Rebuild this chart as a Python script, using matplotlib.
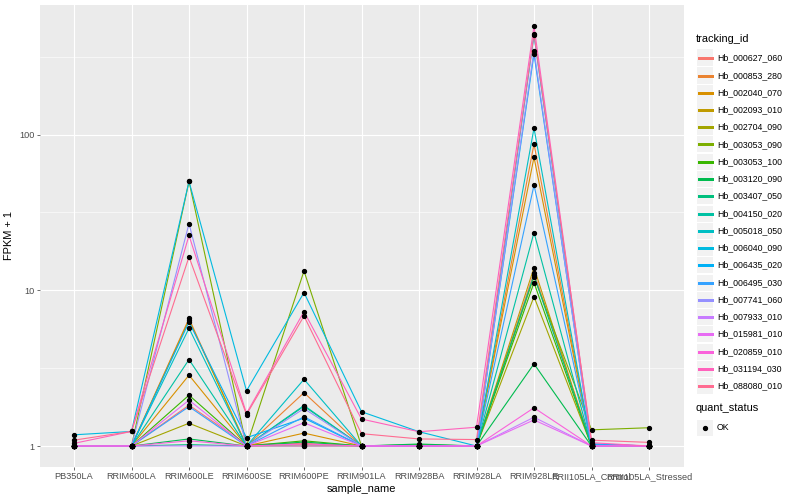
import matplotlib

matplotlib.use("Agg")
import matplotlib.pyplot as plt
import numpy as np
from matplotlib.lines import Line2D
from matplotlib.patches import Rectangle

plt.rcParams["font.family"] = ["Liberation Sans", "DejaVu Sans"]

samples = ["PB350LA", "RRIM600LA", "RRIM600LE", "RRIM600SE", "RRIM600PE",
           "RRIM901LA", "RRIM928BA", "RRIM928LA", "RRIM928LE",
           "RRII105LA_Control", "RRII105LA_Stressed"]

tracking_ids = ["Hb_000627_060", "Hb_000853_280", "Hb_002040_070", "Hb_002093_010",
                "Hb_002704_090", "Hb_003053_090", "Hb_003053_100", "Hb_003120_090",
                "Hb_003407_050", "Hb_004150_020", "Hb_005018_050", "Hb_006040_090",
                "Hb_006435_020", "Hb_006495_030", "Hb_007741_060", "Hb_007933_010",
                "Hb_015981_010", "Hb_020859_010", "Hb_031194_030", "Hb_088080_010"]

colors = ["#F8766D", "#EA8331", "#D89000", "#C09B00", "#A3A500", "#7CAE00",
          "#39B600", "#00BB4E", "#00BF7D", "#00C1A3", "#00BFC4", "#00BAE0",
          "#00B0F6", "#35A2FF", "#9590FF", "#C77CFF", "#E76BF3", "#FA62DB",
          "#FF62BC", "#FF6C91"]

# FPKM + 1 per tracking_id, one value per sample
fpkm = [
    [1.0, 1.0, 1.83, 1.02, 1.04, 1.0, 1.0, 1.0, 13.0, 1.02, 1.0],
    [1.0, 1.0, 6.59, 1.0, 2.2, 1.0, 1.0, 1.0, 87.0, 1.0, 1.0],
    [1.0, 1.0, 2.85, 1.0, 1.21, 1.0, 1.0, 1.0, 71.5, 1.0, 1.0],
    [1.0, 1.0, 6.45, 1.0, 1.02, 1.0, 1.0, 1.0, 14.0, 1.0, 1.0],
    [1.0, 1.0, 1.40, 1.0, 1.0, 1.0, 1.0, 1.0, 9.1, 1.0, 1.0],
    [1.0, 1.0, 50.0, 1.0, 13.3, 1.0, 1.0, 1.0, 12.2, 1.27, 1.31],
    [1.0, 1.0, 2.12, 1.0, 1.08, 1.0, 1.02, 1.0, 11.2, 1.0, 1.0],
    [1.0, 1.0, 1.11, 1.0, 1.06, 1.0, 1.03, 1.0, 3.37, 1.0, 1.0],
    [1.0, 1.0, 1.02, 1.0, 1.80, 1.0, 1.0, 1.0, 12.5, 1.0, 1.0],
    [1.0, 1.0, 3.59, 1.0, 1.82, 1.0, 1.0, 1.0, 23.5, 1.0, 1.0],
    [1.0, 1.0, 5.71, 1.0, 2.68, 1.0, 1.0, 1.0, 110.0, 1.0, 1.0],
    [1.18, 1.24, 50.0, 2.26, 9.67, 1.66, 1.235, 1.0, 433.0, 1.03, 1.0],
    [1.0, 1.0, 6.26, 1.13, 1.51, 1.0, 1.0, 1.0, 329.0, 1.03, 1.0],
    [1.0, 1.0, 1.79, 1.0, 1.54, 1.0, 1.0, 1.0, 47.3, 1.02, 1.0],
    [1.0, 1.0, 26.8, 1.0, 1.74, 1.0, 1.0, 1.0, 345.0, 1.0, 1.0],
    [1.0, 1.0, 1.0, 1.0, 1.0, 1.0, 1.0, 1.0, 1.53, 1.0, 1.0],
    [1.0, 1.0, 1.97, 1.0, 1.41, 1.0, 1.0, 1.0, 1.47, 1.0, 1.0],
    [1.0, 1.0, 1.08, 1.0, 1.03, 1.0, 1.0, 1.0, 1.76, 1.0, 1.0],
    [1.04, 1.24, 22.5, 1.62, 7.3, 1.49, 1.235, 1.32, 498.0, 1.05, 1.0],
    [1.09, 1.24, 16.4, 1.59, 6.84, 1.2, 1.11, 1.10, 441.0, 1.09, 1.055],
]

y_ticks = [1, 10, 100]
y_tick_labels = ["1", "10", "100"]

W, H = 800, 500
fig = plt.figure(figsize=(8, 5), dpi=100)
ax = fig.add_axes([39.5 / W, 1 - 467 / H, (683.5 - 39.5) / W, (467 - 5) / H])
ax.set_facecolor("#EBEBEB")

x = np.arange(len(samples))
for vals, col in zip(fpkm, colors):
    ax.plot(x, vals, color=col, lw=0.8, zorder=3)
for vals in fpkm:
    ax.plot(x, vals, ls="none", marker="o", ms=2.8, color="black", zorder=4)

ax.set_yscale("log")
allv = np.log10(np.array(fpkm))
lo, hi = allv.min(), allv.max()
pad = 0.05 * (hi - lo)
ax.set_ylim(10 ** (lo - pad), 10 ** (hi + pad))
ax.set_xlim(-0.6, len(samples) - 0.4)

ax.set_yticks(y_ticks)
ax.set_yticklabels(y_tick_labels)
ax.set_yticks([10 ** 0.5, 10 ** 1.5, 10 ** 2.5], minor=True)
ax.yaxis.set_minor_formatter(matplotlib.ticker.NullFormatter())
ax.set_xticks(x)
ax.set_xticklabels(samples)
ax.tick_params(axis="both", which="major", length=2, width=0.5, color="#333333",
               labelsize=6.6, labelcolor="#4D4D4D", pad=1.5)
ax.tick_params(axis="y", which="minor", length=0)
ax.grid(True, which="major", color="white", lw=0.8, zorder=0)
ax.grid(True, which="minor", axis="y", color="white", lw=0.4, zorder=0)
ax.set_axisbelow(True)
for s in ax.spines.values():
    s.set_visible(False)

ax.set_xlabel("sample_name", fontsize=7.9, labelpad=2)
ax.set_ylabel("FPKM + 1", fontsize=7.9, labelpad=4)


def fx(px):
    return px / W


def fy(py):
    return 1 - py / H


# legend: tracking_id
fig.text(fx(696), fy(39), "tracking_id", fontsize=7.9, va="center", ha="left")
step = 17.26
for i, (tid, col) in enumerate(zip(tracking_ids, colors)):
    yc = round(57.3 + i * step) + 0.5
    fig.add_artist(Rectangle((fx(697), fy(yc + 8)), 16 / W, 16 / H,
                             transform=fig.transFigure, facecolor="#F2F2F2",
                             edgecolor="none"))
    fig.add_artist(Line2D([fx(698.5), fx(711.5)], [fy(yc), fy(yc)],
                          transform=fig.transFigure, color=col, lw=0.75,
                          antialiased=False))
    fig.text(fx(717), fy(yc), tid, fontsize=6.3, va="center", ha="left")

# legend: quant_status
fig.text(fx(696), fy(408), "quant_status", fontsize=7.9, va="center", ha="left")
fig.add_artist(Rectangle((fx(697), fy(427.5 + 8)), 16 / W, 16 / H,
                         transform=fig.transFigure, facecolor="#F2F2F2",
                         edgecolor="none"))
fig.add_artist(Line2D([fx(705)], [fy(427.5)], transform=fig.transFigure,
                      marker="o", ms=2.8, color="black", ls="none"))
fig.text(fx(717), fy(427.5), "OK", fontsize=6.3, va="center", ha="left")

fig.savefig("out.png", dpi=100, facecolor="white")
